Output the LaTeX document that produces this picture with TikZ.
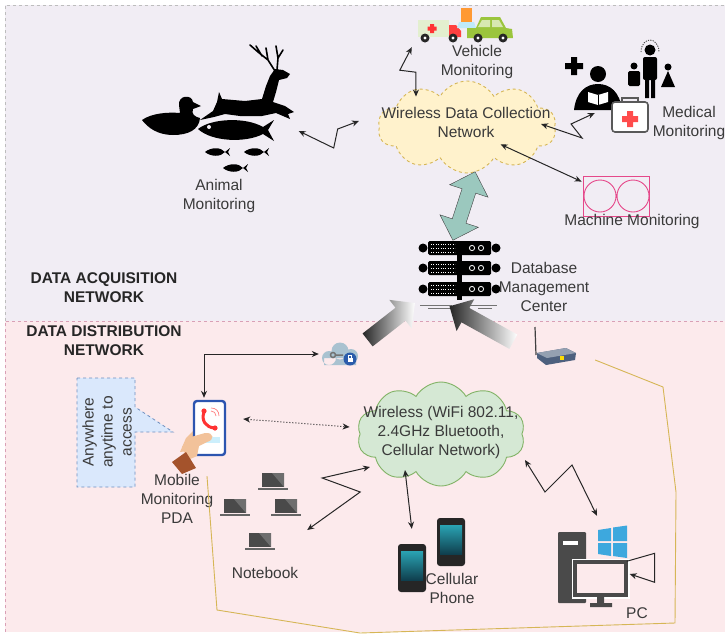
\documentclass[tikz,border=0pt]{standalone}
\usepackage{fontspec}
\setmainfont{Liberation Sans}
\usepackage{tikz}
\usetikzlibrary{arrows.meta,positioning,calc,shapes.symbols,shapes.arrows}
\definecolor{acqbg}{HTML}{F1EDF4}
\definecolor{distbg}{HTML}{FCEAEC}
\definecolor{framegray}{HTML}{BDBDBD}
\definecolor{splitpink}{HTML}{D9A0B6}
\definecolor{labelgray}{HTML}{3A3A3A}
\definecolor{cloudyellow}{HTML}{FFF2CC}
\definecolor{cloudgold}{HTML}{D6B656}
\definecolor{cloudgreen}{HTML}{D5E8D4}
\definecolor{edgegreen}{HTML}{82B366}
\definecolor{noteblue}{HTML}{DAE8FC}
\definecolor{noteedge}{HTML}{6C8EBF}
\definecolor{syncteal}{HTML}{9BC8BE}
\definecolor{machinepink}{HTML}{E5488A}
\definecolor{phoneblue}{HTML}{2C55B0}
\definecolor{skin}{HTML}{F2C29A}
\definecolor{sleeve}{HTML}{A4532C}
\definecolor{devgray}{HTML}{4A4A4A}
\definecolor{winblue}{HTML}{3DA8DE}
\definecolor{ambulance}{HTML}{E3EFCF}
\definecolor{cargreen}{HTML}{9BC53D}
\definecolor{lockcloud}{HTML}{A9C2D0}
\definecolor{lockblue}{HTML}{2B5CAB}
\definecolor{routerblue}{HTML}{4D607E}
\definecolor{screentop}{HTML}{2AA3B3}
\definecolor{screenbottom}{HTML}{0F3F4E}

\begin{document}
\begin{tikzpicture}[
  x=1pt, y=-1pt,
  lbl/.style={font=\fontsize{15.5}{19}\selectfont, text=labelgray, align=center, inner sep=0pt},
  head/.style={font=\bfseries\fontsize{15.5}{19}\selectfont, text=black!85, align=center, inner sep=0pt},
  spot/.style 2 args={inner sep=0pt, minimum width=#1, minimum height=#2},
  link/.style={{Stealth[length=7pt,width=6pt]}-{Stealth[length=7pt,width=6pt]}, line width=1pt, draw=black!85},
  netcloud/.style={cloud, cloud puffs=10, cloud puff arc=120, cloud ignores aspect, inner sep=0pt},
  feed/.style={single arrow, single arrow head extend=10pt, inner sep=8pt, left color=black!85, right color=white}
]
\useasboundingbox (0,0) rectangle (725,635);

% panels
\fill[acqbg] (5,5) rectangle (725,321);
\fill[distbg] (5,321) rectangle (725,632);
\draw[framegray, dashed] (5,321) -- (5,5) -- (725,5);
\draw[splitpink, dashed] (5,632) -- (5,321) -- (725,321);
\node[head] (acqhead) at (104,288) {DATA ACQUISITION\\NETWORK};
\node[head] (disthead) at (104,341) {DATA DISTRIBUTION\\NETWORK};

% clouds
\node[netcloud, draw=cloudgold, fill=cloudyellow, dashed, line width=0.9pt, minimum width=178, minimum height=92] (collect) at (467,127) {};
\node[lbl] (collecttext) at (466,122) {Wireless Data Collection\\Network};
\node[netcloud, draw=edgegreen, fill=cloudgreen, line width=0.9pt, minimum width=168, minimum height=104] (wnet) at (441,434) {};
\node[lbl] (wnettext) at (441,432) {Wireless (WiFi 802.11,\\2.4GHz Bluetooth,\\Cellular Network)};

% animals
\node[spot={155}{130}] (animal) at (218,107) {};
\fill (142,120) .. controls (152,113) and (168,112) .. (180,113) -- (179,105) .. controls (178,95) and (192,94) .. (193,102) -- (201,106) -- (193,109) .. controls (191,114) and (195,117) .. (200,118) .. controls (199,130) and (188,135) .. (173,135) .. controls (158,135) and (148,128) .. cycle;
\fill (200,120) -- (213,111) -- (217,102) -- (219,92) -- (222,99) -- (245,101) -- (262,99) -- (266,86) -- (270,76) -- (275,69) -- (283,70) -- (290,74) -- (287,78) -- (279,80) -- (276,92) -- (273,102) -- (285,106) -- (294,112) -- (288,114) -- (290,119) -- (283,116) -- (276,113) -- (262,116) -- (240,116) -- (225,114) -- (214,117) -- cycle;
\draw[line width=1.6, line cap=round] (275,71) -- (268,60) -- (258,52) -- (250,45) (268,60) -- (266,48) (262,56) -- (256,46) (277,70) -- (278,58) -- (276,46) (278,58) -- (283,50);
\fill (198,129) .. controls (212,118) and (246,117) .. (263,127) -- (274,120) -- (268,130) -- (274,141) -- (263,134) .. controls (246,143) and (212,142) .. cycle;
\fill[acqbg] (209,127) circle (2);
\foreach \fx/\fy in {217/152, 256/152, 235/168}
  \fill ({\fx-12},\fy) .. controls ({\fx-6},{\fy-5}) and ({\fx+4},{\fy-5}) .. ({\fx+8},\fy) -- ({\fx+13},{\fy-4}) -- ({\fx+11},\fy) -- ({\fx+13},{\fy+4}) -- ({\fx+8},\fy) .. controls ({\fx+4},{\fy+5}) and ({\fx-6},{\fy+5}) .. cycle;
\node[lbl] (animallbl) at (219,196) {Animal\\Monitoring};

% vehicles
\node[spot={100}{40}] (vehicle) at (465,22) {};
\fill[ambulance] (418,20) rectangle (449,37);
\fill[red!75] (449,25) -- (456,25) -- (461,31) -- (461,37) -- (449,37) -- cycle;
\fill[red!80] (430,24) rectangle (434,33) (427.5,26.5) rectangle (436.5,30.5);
\fill[orange!80] (461,8) rectangle (472,22);
\fill[cyan!25] (459,22) -- (474,22) -- (476,28) -- (457,28) -- cycle;
\fill[cargreen] (467,28) -- (476,28) -- (481,17) -- (500,17) -- (506,28) -- (512,29) -- (513,38) -- (467,38) -- cycle;
\fill[white!60!cargreen] (482,20) -- (490,20) -- (490,27) -- (478,27) -- cycle (492,20) -- (499,20) -- (503,27) -- (492,27) -- cycle;
\foreach \wx in {425,453,478,503} {
  \fill[black!85] (\wx,38) circle (4.5);
  \fill[white] (\wx,38) circle (1.6);
}
\node[lbl] (vehiclelbl) at (477,62) {Vehicle\\Monitoring};

% medical
\node[spot={130}{92}] (medical) at (625,88) {};
\fill (571,57) rectangle (577,75) (565,63) rectangle (583,69);
\fill (598,74) circle (8);
\fill (574,110) .. controls (576,92) and (586,84) .. (598,84) .. controls (610,84) and (620,92) .. (622,110) -- cycle;
\fill[white] (588,92) -- (598,95) -- (608,92) -- (608,102) -- (598,105) -- (588,102) -- cycle;
\draw (598,95) -- (598,105);
\fill (650,50) circle (5.5);
\fill[rounded corners=2] (643,57) rectangle (657,80);
\fill (645,78) rectangle (649,98) (651,78) rectangle (655,98);
\fill (634,66) circle (3.5);
\fill[rounded corners=1.5] (628,71) rectangle (640,86);
\fill (668,67) circle (3.5);
\fill (668,71) -- (675,87) -- (661,87) -- cycle;
\draw[black!70, line width=0.9, dash pattern=on 1.2pt off 1.2pt] (641,52) .. controls (641,44) and (646,40) .. (650,40) .. controls (654,40) and (659,44) .. (659,52);
\draw[black!65, line width=1.6, fill=white, rounded corners=3] (612,102) rectangle (648,132);
\draw[black!65, line width=1.6] (622,102) -- (622,98) -- (638,98) -- (638,102);
\fill[red!70] (627,111) rectangle (633,127) (622,116) rectangle (638,122);
\node[lbl] (medicallbl) at (689,123) {Medical\\Monitoring};

% machine
\node[draw=machinepink, line width=0.9pt, minimum width=66, minimum height=40, inner sep=0pt] (machine) at (616,196) {};
\draw[machinepink, line width=0.9pt] (600,196) circle (16) (633,196) circle (16);
\node[lbl] (machinelbl) at (632,221) {Machine Monitoring};

% database server
\node[spot={82}{66}] (dbm) at (459,270) {};
\fill (457,246) rectangle (462,300);
\foreach \uy in {248,268,289} {
  \fill[rounded corners=1.5] (428,{\uy-7}) rectangle (491,{\uy+7});
  \fill (423,\uy) circle (4.5) (496,\uy) circle (4.5);
  \draw[white, line width=1, dash pattern=on 1pt off 1.4pt] (431,{\uy-4}) -- (455,{\uy-4}) (431,\uy) -- (455,\uy) (431,{\uy+4}) -- (455,{\uy+4});
  \draw[white, line width=0.8] (472,\uy) circle (2.6) (481,\uy) circle (2.6);
}
\draw[black!55, line width=1] (420,305) -- (452,305) (470,305) -- (497,305) (428,308) -- (455,308) (478,308) -- (492,308);
\node[lbl] (dbmlbl) at (544,287) {Database\\Management\\Center};
\node[double arrow, draw=black!75, fill=syncteal, double arrow head extend=13pt, inner sep=7pt, minimum height=72, rotate=72] (sync) at (464,206) {};
\node[feed, minimum height=60, rotate=38] (feedleft) at (388,324) {};
\node[feed, minimum height=73, rotate=151] (feedright) at (485,326) {};

% cloud lock and router
\node[spot={42}{26}] (lock) at (340,354) {};
\fill[lockcloud] (329,358) circle (7) (340,351) circle (8.5) (351,356) circle (7) (324,358) rectangle (356,365);
\draw[black!55, line width=1.5] (333,355) circle (2.5) (335.5,355) -- (343,355);
\fill[lockblue] (350,359) circle (6.5);
\fill[white] (347.5,358) rectangle (352.5,362);
\draw[white, line width=0.8] (348.5,358) -- (348.5,355.5) -- (351.5,355.5) -- (351.5,358);
\node[spot={44}{38}] (router) at (555,346) {};
\draw[black!75, line width=1.2] (536,355) -- (535,327);
\fill[routerblue] (537,353) -- (566,348) -- (576,353) -- (575,360) -- (546,365) -- (537,358) -- cycle;
\fill[routerblue!60!white] (537,353) -- (566,348) -- (576,353) -- (547,358) -- cycle;
\fill[yellow!80!orange] (560,356) rectangle (564,360);

% handheld
\node[spot={50}{60}] (pda) at (204,428) {};
\fill[skin] (180,452) -- (186,438) -- (196,428) -- (196,450) -- cycle;
\draw[phoneblue, line width=2.4, fill=white, rounded corners=3] (194,401) rectangle (225,455);
\draw[red!80, line width=3, line cap=round] (204,412) .. controls (201,421) and (206,427) .. (214,428);
\fill[red!80] (204,411) circle (2.6) (215,428) circle (2.6);
\draw[red!50, line width=0.7] (211,411) .. controls (214,411) and (216,413) .. (216,416) (211,408) .. controls (216,408) and (219,411) .. (219,416);
\fill[cyan!20] (203,437) rectangle (220,443);
\fill[skin] (182,447) -- (191,437) -- (205,433) .. controls (214,432) and (215,440) .. (207,442) -- (199,446) -- (197,456) -- (188,460) -- cycle;
\fill[sleeve] (172,462) -- (186,452) -- (196,468) -- (182,474) -- cycle;
\node[lbl] (pdalbl) at (177,499) {Mobile\\Monitoring\\PDA};
\draw[noteedge, fill=noteblue, dashed, line width=0.8pt] (77,378) -- (135,378) -- (135,407) -- (173,432) -- (135,432) -- (135,487) -- (77,487) -- cycle;
\node[lbl, rotate=90] (note) at (107,432) {Anywhere\\anytime to\\access};

% notebooks
\node[spot={86}{80}] (nbook) at (261,512) {};
\foreach \lx/\ly in {273/482, 235/508, 286/508, 260/542} {
  \fill[devgray] ({\lx-11},{\ly-9}) rectangle ({\lx+11},{\ly+5});
  \fill[devgray!80] ({\lx-1},{\ly-9}) -- ({\lx+11},{\ly-9}) -- ({\lx+11},{\ly+5}) -- cycle;
  \fill[devgray!85] ({\lx-15},{\ly+6}) rectangle ({\lx+15},{\ly+8});
}
\node[lbl] (nbooklbl) at (265,573) {Notebook};

% cellular phones
\node[spot={70}{76}] (cell) at (432,555) {};
\foreach \px/\py in {412/568, 451/542} {
  \fill[black!85, rounded corners=3] ({\px-14},{\py-24}) rectangle ({\px+14},{\py+24});
  \shade[top color=screentop, bottom color=screenbottom] ({\px-11},{\py-17}) rectangle ({\px+11},{\py+12});
}
\node[lbl] (celllbl) at (452,588) {Cellular\\Phone};

% desktop
\node[spot={72}{80}] (pc) at (592,566) {};
\fill[devgray, rounded corners=1] (558,532) rectangle (586,603);
\fill[white] (563,541) rectangle (578,545);
\draw[white, line width=7] (575,562) rectangle (626,595);
\draw[devgray, line width=4, fill=distbg] (575,562) rectangle (626,595);
\fill[devgray] (597,597) rectangle (604,603) (590,603) rectangle (612,607);
\fill[winblue] (598,530) -- (611,528) -- (611,541) -- (598,541) -- cycle (613,527.5) -- (627,525.5) -- (627,541) -- (613,541) -- cycle (598,543) -- (611,543) -- (611,556) -- (598,554) -- cycle (613,543) -- (627,543) -- (627,558) -- (613,556) -- cycle;
\node[spot={53}{33}] (screen) at (600,578) {};
\node[lbl] (pclbl) at (637,613) {PC};

% connectors
\draw[link] ($(animal.east)+(3,24)$) -- ++(35,17) -- ++(4,-19) -- ($(collect.west)+(-20,-6)$);
\draw[link] ($(vehicle.south west)+(-3,5)$) -- ++(-12,23) -- ++(16,2) -- ($(collect.north)+(-51,16)$);
\draw[link] ($(collect.east)+(-14,-3)$) -- ++(41,14) -- ++(-11,-14) -- ($(medical.west)+(35,25)$);
\draw[link] ($(collect.south east)+(-29,-15)$) -- ($(machine.north west)+(-1,6)$);
\draw[link] (lock.west) -| (pda.north);
\draw[link, dotted] ($(pda.east)+(14,-9)$) -- ($(wnet.west)+(-10,-7)$);
\draw[link] ($(nbook.east)+(3,18)$) -- ++(53,-38) -- ++(-38,-14) -- ($(wnet.center)+(-71,33)$);
\draw[link] ($(wnet.center)+(-36,36)$) -- ($(cell.north west)+(15,12)$);
\draw[link] ($(wnet.center)+(84,26)$) -- ++(20,32) -- ++(27,-27) -- ($(pc.north)+(5,-10)$);
\draw[-{Stealth[length=7pt,width=6pt]}, line width=1pt, black!85] (screen.north east) -- ++(28,-8) -- ++(0,29) -- ($(screen.east)+(3,-4)$);
\draw[cloudgold, line width=0.9pt] ($(router.east)+(18,14)$) -- (663,387) -- (676,492) -- (675,623) -- (360,633) -- (217,610) -- ($(pda.south)+(3,18)$);
\end{tikzpicture}
\end{document}
